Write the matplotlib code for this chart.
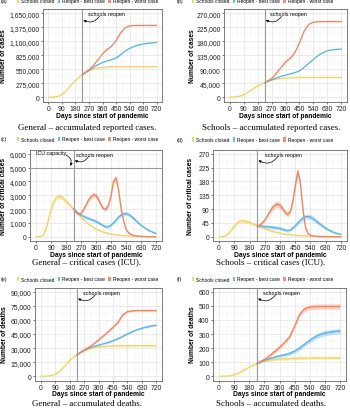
import numpy as np
import matplotlib
matplotlib.use("Agg")
import matplotlib.pyplot as plt
from matplotlib.patches import Patch
from matplotlib.ticker import MultipleLocator, FuncFormatter

plt.rcParams['font.family'] = ['Liberation Sans', 'DejaVu Sans']

# ---------------- data ----------------
series_names = ["Schools closed", "Reopen - best case", "Reopen - worst case"]
colors = ["#F8D25E", "#58B4EA", "#F5825F"]
reopen_day = 225

days30 = list(range(0, 721, 30))
reopen30 = [225] + list(range(240, 721, 30))
days15 = list(range(0, 721, 15))
reopen15 = [225] + list(range(240, 721, 15))

# (a) general accumulated reported cases (thousands)
a_closed = [0, 3, 15, 50, 130, 235, 325, 405, 470, 520, 553, 573, 586, 593, 597,
            599, 600, 600, 600, 600, 600, 600, 600, 600, 600]
a_best = [440, 472, 528, 588, 640, 682, 712, 738, 770, 835, 905, 958, 998, 1025,
          1045, 1058, 1068, 1075]
a_worst = [440, 476, 540, 625, 735, 850, 935, 1000, 1110, 1260, 1360, 1400, 1408,
           1410, 1410, 1410, 1410, 1410]

# (b) schools accumulated reported cases (thousands)
b_closed = [0, 1, 3, 8, 17, 27, 36, 43, 50, 55, 58, 60, 61.5, 62.5, 63, 63.5, 63.5,
            63.5, 63.5, 63.5, 63.5, 63.5, 63.5, 63.5, 63.5]
b_best = [46, 50, 56, 62, 67, 71, 75, 79, 85, 96, 109, 122, 134, 143, 149, 152, 154, 155]
b_worst = [46, 51, 60, 76, 95, 113, 125, 143, 175, 212, 234, 241, 242.5, 243, 243,
           243, 243, 243]

# (c) general critical cases (ICU)
c_closed = [0, 0, 20, 150, 550, 1250, 1950, 2500, 2820, 2920, 2880, 2750, 2580, 2400,
            2200, 2000, 1800, 1600, 1420, 1240, 1080, 930, 800, 680, 570, 480, 400,
            340, 290, 240, 200, 170, 140, 120, 100, 85, 70, 60, 50, 42, 36, 31, 27,
            23, 20, 17, 15, 13, 12]
c_closed_band = [0, 0, 5, 20, 50, 90, 130, 160, 175, 180, 175, 165, 150, 135, 120,
                 100, 85, 75, 65, 55, 50, 45, 40, 35, 30, 28, 25, 22, 20, 18, 16, 14,
                 12, 10, 9, 8, 7, 6, 5, 5, 4, 4, 4, 3, 3, 3, 3, 3, 3]
c_best = [2000, 1850, 1700, 1580, 1480, 1400, 1330, 1260, 1190, 1110, 1020, 910, 800,
          720, 730, 850, 1020, 1220, 1420, 1570, 1660, 1680, 1620, 1500, 1340, 1160,
          990, 840, 710, 590, 480, 390, 310, 240]
c_best_band = [40, 60, 80, 95, 105, 110, 115, 120, 120, 120, 120, 115, 110, 105, 105,
               110, 115, 120, 125, 130, 130, 130, 125, 120, 110, 100, 90, 80, 70, 60,
               50, 45, 40, 35]
c_worst = [2000, 1750, 1620, 1700, 1950, 2300, 2650, 2900, 3020, 2980, 2700, 2300,
           2020, 2000, 2300, 2950, 4000, 4250, 3400, 2100, 1150, 560, 300, 170, 100,
           65, 45, 30, 20, 14, 10, 7, 5, 4]
c_worst_band = [40, 70, 90, 100, 120, 140, 160, 175, 180, 180, 170, 150, 130, 130,
                150, 180, 200, 210, 190, 150, 100, 60, 40, 25, 15, 10, 8, 6, 5, 4, 3,
                3, 2, 2]
icu_capacity = 5000

# (d) schools critical cases (ICU)
d_closed = [0, 0, 1, 6, 14, 24, 35, 44, 50, 52, 51, 49, 46, 43, 40, 36, 33, 30, 27,
            24, 21, 18, 16, 14, 12, 10, 9, 8, 7, 6, 5, 4.5, 4, 3.5, 3, 2.7, 2.4, 2.2,
            2, 1.8, 1.6, 1.5, 1.4, 1.3, 1.2, 1.1, 1, 1, 1]
d_closed_band = [0, 0, 1, 2, 3, 4, 5, 6, 7, 7, 7, 6, 6, 5, 5, 5, 4, 4, 4, 3, 3, 3, 3,
                 2, 2, 2, 2, 2, 2, 1.5, 1.5, 1.5, 1, 1, 1, 1, 1, 1, 1, 1, 1, 1, 1, 1,
                 1, 1, 1, 1, 1]
d_best = [36, 35, 34, 33, 33, 32, 31, 30, 29, 27, 25, 22, 20, 22, 28, 36, 45, 54, 61,
          65, 66, 64, 59, 53, 46, 40, 34, 28, 23, 19, 15, 12, 10, 8]
d_best_band = [3, 4, 5, 6, 6, 6, 6, 6, 6, 6, 6, 5, 5, 5, 6, 6, 7, 8, 8, 8, 8, 8, 8, 7,
               7, 6, 6, 5, 4, 4, 3, 3, 2, 2]
d_worst = [36, 38, 45, 55, 68, 82, 95, 103, 106, 102, 92, 80, 72, 82, 112, 165, 213,
           175, 92, 32, 11, 5, 2.5, 1.5, 1, 0.8, 0.6, 0.5, 0.4, 0.3, 0.3, 0.2, 0.2, 0.2]
d_worst_band = [3, 4, 5, 6, 7, 8, 9, 10, 10, 10, 9, 8, 7, 8, 10, 12, 14, 12, 9, 5, 2,
                1, 0.5, 0.3, 0.2, 0.2, 0.1, 0.1, 0.1, 0.1, 0.1, 0.1, 0.1, 0.1]

# (e) general accumulated deaths (thousands)
e_closed = [0, 0.1, 0.5, 2, 5.5, 11, 17, 21, 24.5, 27, 29, 30.5, 31.3, 31.8, 32.1,
            32.3, 32.5, 32.5, 32.5, 32.5, 32.5, 32.5, 32.5, 32.5, 32.5]
e_closed_band = [0, 0, 0, 0.1, 0.2, 0.3, 0.4, 0.5, 0.5, 0.6, 0.6, 0.6, 0.6, 0.6, 0.6,
                 0.6, 0.6, 0.6, 0.6, 0.6, 0.6, 0.6, 0.6, 0.6, 0.6]
e_best = [22.7, 24.5, 27.5, 30, 31.8, 33.2, 34.6, 36, 37.8, 40, 42.5, 45, 47.5, 49.5,
          51.2, 52.5, 53.6, 54.4]
e_best_band = [0.5, 0.5, 0.6, 0.6, 0.6, 0.7, 0.7, 0.7, 0.8, 0.8, 0.8, 0.8, 0.8, 0.8,
               0.8, 0.8, 0.8, 0.8]
e_worst = [22.7, 24.5, 28, 31, 34.5, 38.5, 43, 47.5, 52, 57, 65, 68.8, 69.6, 70, 70,
           70, 70, 70]
e_worst_band = [0.5, 0.5, 0.6, 0.6, 0.7, 0.8, 0.8, 0.9, 0.9, 0.9, 0.9, 0.9, 0.9, 0.9,
                0.9, 0.9, 0.9, 0.9]

# (f) schools accumulated deaths
f_closed = [0, 0.5, 3, 10, 25, 45, 65, 83, 97, 107, 114, 119, 122, 124.5, 126, 127.5,
            128.5, 129, 130, 130, 130, 130, 130, 130, 130]
f_closed_band = [0, 0, 1, 2, 3, 4, 5, 6, 7, 8, 9, 9, 10, 10, 10, 10, 10, 10, 10, 10,
                 10, 10, 10, 10, 10]
f_best = [91, 98, 113, 125, 135, 145, 152, 162, 178, 200, 228, 255, 278, 295, 306,
          313, 318, 321]
f_best_band = [5, 6, 8, 9, 10, 11, 12, 13, 14, 15, 16, 17, 17, 18, 18, 18, 18, 18]
f_worst = [91, 100, 120, 145, 175, 205, 240, 280, 355, 440, 478, 490, 494, 495, 495,
           495, 495, 495]
f_worst_band = [5, 6, 8, 10, 12, 13, 14, 15, 16, 17, 18, 18, 18, 18, 18, 18, 18, 18]

# ---------------- layout ----------------
W, H = 350, 410
fig = plt.figure(figsize=(W / 100, H / 100), dpi=100)

panels = [
    dict(tag="(a)", box=(43, 10, 162, 102.5), top=1650000, step=275000, scale=1000,
         ylabel="Number of cases", ylab_x=3.5,
         caption="General \u2013 accumulated reported cases.",
         days=(days30, reopen30, reopen30), vals=(a_closed, a_best, a_worst),
         bands=(None, None, None), txt_x=265, col=0, leg_y=1.5, cap_y=127.5),
    dict(tag="(b)", box=(224, 10, 347, 102.5), top=270000, step=45000, scale=1000,
         ylabel="Number of cases", ylab_x=193,
         caption="Schools \u2013 accumulated reported cases.",
         days=(days30, reopen30, reopen30), vals=(b_closed, b_best, b_worst),
         bands=(None, None, None), txt_x=260, col=1, leg_y=1.5, cap_y=127.5),
    dict(tag="(c)", box=(30, 150.5, 162, 242), top=6000, step=1000, scale=1,
         ylabel="Number of critical cases", ylab_x=4,
         caption="General \u2013 critical cases (ICU).",
         days=(days15, reopen15, reopen15), vals=(c_closed, c_best, c_worst),
         bands=(c_closed_band, c_best_band, c_worst_band), txt_x=240, col=0,
         leg_y=140, cap_y=262.5),
    dict(tag="(d)", box=(213, 150.5, 347, 242), top=270, step=45, scale=1,
         ylabel="Number of critical cases", ylab_x=191,
         caption="Schools \u2013 critical cases (ICU).",
         days=(days15, reopen15, reopen15), vals=(d_closed, d_best, d_worst),
         bands=(d_closed_band, d_best_band, d_worst_band), txt_x=272, col=1,
         leg_y=140.5, cap_y=262),
    dict(tag="(e)", box=(35, 288.5, 162, 381.5), top=90000, step=15000, scale=1000,
         ylabel="Number of deaths", ylab_x=5,
         caption="General \u2013 accumulated deaths.",
         days=(days30, reopen30, reopen30), vals=(e_closed, e_best, e_worst),
         bands=(e_closed_band, e_best_band, e_worst_band), txt_x=265, col=0,
         leg_y=280, cap_y=404.5),
    dict(tag="(f)", box=(213, 288.5, 346, 381.5), top=600, step=100, scale=1,
         ylabel="Number of deaths", ylab_x=192,
         caption="Schools \u2013 accumulated deaths.",
         days=(days30, reopen30, reopen30), vals=(f_closed, f_best, f_worst),
         bands=(f_closed_band, f_best_band, f_worst_band), txt_x=262, col=1,
         leg_y=280, cap_y=404.5),
]

fmt = FuncFormatter(lambda v, p: f"{int(round(v)):,}")

for P in panels:
    l, t, r, b = P["box"]
    ax = fig.add_axes([l / W, 1 - b / H, (r - l) / W, (b - t) / H])
    top = P["top"]
    ax.set_xlim(-36, 756)
    ax.set_ylim(-0.05 * top, 1.05 * top)
    ax.xaxis.set_major_locator(MultipleLocator(90))
    ax.xaxis.set_minor_locator(MultipleLocator(45))
    ax.yaxis.set_major_locator(MultipleLocator(P["step"]))
    ax.yaxis.set_minor_locator(MultipleLocator(P["step"] / 2))
    ax.yaxis.set_major_formatter(fmt)
    ax.grid(which="major", color="#E3E3E3", lw=0.5)
    ax.grid(which="minor", color="#F1F1F1", lw=0.35)
    ax.set_axisbelow(True)
    ax.tick_params(which="major", length=1.6, width=0.5, color="#444444",
                   labelsize=4.9, pad=0.8, labelcolor="#222222")
    ax.tick_params(which="minor", length=0)
    for s in ax.spines.values():
        s.set_color("#666666")
        s.set_linewidth(0.6)

    sc = P["scale"]
    for d, v, bd, c in zip(P["days"], P["vals"], P["bands"], colors):
        v = np.array(v, dtype=float) * sc
        if bd is not None:
            bd = np.array(bd, dtype=float) * sc
            ax.fill_between(d, v - bd, v + bd, color=c, alpha=0.38, lw=0)
        ax.plot(d, v, color=c, lw=0.95, solid_capstyle="round")

    ax.axvline(reopen_day, color="#9A9A9A", lw=0.8, zorder=5)

    # annotation "schools reopen"
    ax.text(P["txt_x"], 0.995 * top, "schools reopen", fontsize=3.9,
            ha="left", va="center", zorder=6)
    ax.annotate("", xy=(233, 0.92 * top), xytext=(P["txt_x"] + 75, 0.965 * top),
                arrowprops=dict(arrowstyle="-|>", connectionstyle="arc3,rad=-0.45",
                                color="black", lw=0.5, mutation_scale=3.5,
                                shrinkA=0, shrinkB=0), zorder=6)

    if P["tag"] == "(c)":
        ax.axhline(icu_capacity, color="#9A9A9A", lw=0.8, zorder=5)
        ax.text(90, 6050, "ICU capacity", fontsize=3.8, ha="center", va="center",
                zorder=6)
        ax.annotate("", xy=(206, 5120), xytext=(180, 5900),
                    arrowprops=dict(arrowstyle="-|>", connectionstyle="arc3,rad=-0.45",
                                    color="black", lw=0.5, mutation_scale=3.5,
                                    shrinkA=0, shrinkB=0), zorder=6)

    # axis labels
    wpx, hpx = r - l, b - t
    ax.text((P["ylab_x"] - l) / wpx, 0.5, P["ylabel"], transform=ax.transAxes,
            rotation=90, ha="center", va="center", fontsize=4.8, fontweight="bold")
    ax.text(0.5, -13.5 / hpx, "Days since start of pandemic",
            transform=ax.transAxes, ha="center", va="center", fontsize=4.8,
            fontweight="bold")

    # caption
    cx = 87 if P["col"] == 0 else 271
    fig.text(cx / W, 1 - P["cap_y"] / H, P["caption"], ha="center", va="center",
             fontsize=6.4, family=["Liberation Serif", "DejaVu Serif"])

    # panel tag + legend
    tx = 1 if P["col"] == 0 else 177
    fig.text(tx / W, 1 - P["leg_y"] / H, P["tag"], ha="left", va="center",
             fontsize=3.8)
    handles = [Patch(facecolor=c, edgecolor="none", alpha=0.9) for c in colors]
    lx = 87.5 if P["col"] == 0 else 262.5
    ax.legend(handles, series_names, ncol=3, frameon=False, fontsize=3.5,
              loc="center", bbox_to_anchor=(lx / W, 1 - P["leg_y"] / H),
              bbox_transform=fig.transFigure, handlelength=0.45, handleheight=1.0,
              handletextpad=0.4, columnspacing=0.7, borderpad=0, borderaxespad=0)

fig.savefig("out.png", dpi=100)
